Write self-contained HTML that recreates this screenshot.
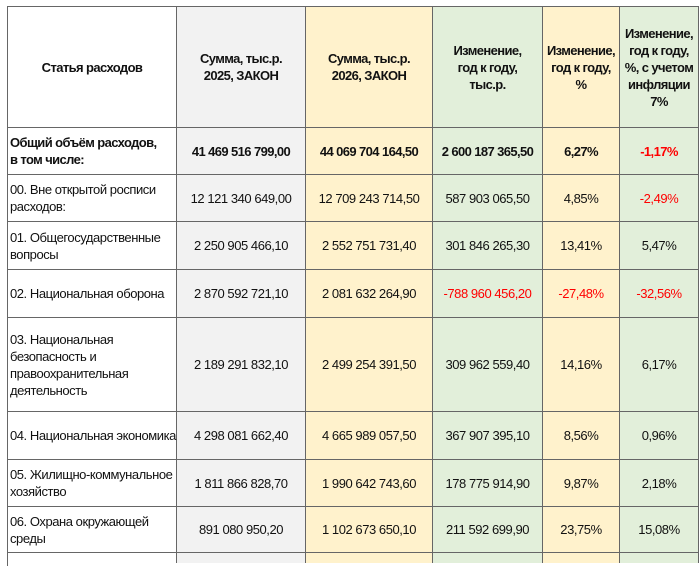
<!DOCTYPE html>
<html><head><meta charset="utf-8"><style>
body{margin:0;width:700px;height:556px;background:#fff;overflow:hidden;font-family:"Liberation Sans",Arial,sans-serif;font-size:13px;letter-spacing:-0.45px;color:#111;position:relative}
.c{position:absolute;box-sizing:border-box;display:flex;align-items:center;justify-content:center;text-align:center;line-height:17px;white-space:nowrap;border-right:1.5px solid #666;border-bottom:1.5px solid #666}
.l{justify-content:flex-start;text-align:left;padding-left:2px}
.b{font-weight:bold;letter-spacing:-0.6px}
.r{color:#f00}
.w{background:#fff}.g{background:#f2f2f2}.y{background:#fff2cc}.gr{background:#e2efda}
</style></head><body>
<div style="position:absolute;left:7px;top:6px;width:692px;height:560px;border-left:1.5px solid #666;border-top:1.5px solid #666;box-sizing:border-box"></div>
<div id="t"></div>
<script>
var xs=[8,177,306,433,543,620,699];
var ys=[7,128,175,222,270,318,412,460,507,553];
var bg=["w","g","y","gr","y","gr"];
var rows=[
[["Статья расходов","Сумма, тыс.р.<br>2025, ЗАКОН","Сумма, тыс.р.<br>2026, ЗАКОН","Изменение,<br>год к году,<br>тыс.р.","Изменение,<br>год к году,<br>%","Изменение,<br>год к году,<br>%, с учетом<br>инфляции<br>7%"],"b",[]],
[["Общий объём расходов,<br>в том числе:","41 469 516 799,00","44 069 704 164,50","2 600 187 365,50","6,27%","-1,17%"],"b",[5]],
[["00. Вне открытой росписи<br>расходов:","12 121 340 649,00","12 709 243 714,50","587 903 065,50","4,85%","-2,49%"],"",[5]],
[["01. Общегосударственные<br>вопросы","2 250 905 466,10","2 552 751 731,40","301 846 265,30","13,41%","5,47%"],"",[]],
[["02. Национальная оборона","2 870 592 721,10","2 081 632 264,90","-788 960 456,20","-27,48%","-32,56%"],"",[3,4,5]],
[["03. Национальная<br>безопасность и<br>правоохранительная<br>деятельность","2 189 291 832,10","2 499 254 391,50","309 962 559,40","14,16%","6,17%"],"",[]],
[["04. Национальная экономика","4 298 081 662,40","4 665 989 057,50","367 907 395,10","8,56%","0,96%"],"",[]],
[["05. Жилищно-коммунальное<br>хозяйство","1 811 866 828,70","1 990 642 743,60","178 775 914,90","9,87%","2,18%"],"",[]],
[["06. Охрана окружающей<br>среды","891 080 950,20","1 102 673 650,10","211 592 699,90","23,75%","15,08%"],"",[]]
];
var h="";
rows.forEach(function(r,i){
 for(var j=0;j<6;j++){
  var cls="c "+bg[j]+" "+r[1]+(j==0&&i>0?" l":"")+(r[2].indexOf(j)>=0?" r":"");
  h+='<div class="'+cls+'" style="left:'+xs[j]+'px;top:'+ys[i]+'px;width:'+(xs[j+1]-xs[j])+'px;height:'+(ys[i+1]-ys[i])+'px">'+r[0][j]+'</div>';
 }
});
for(var j=0;j<6;j++)h+='<div class="c '+bg[j]+'" style="left:'+xs[j]+'px;top:553px;width:'+(xs[j+1]-xs[j])+'px;height:10px;border-bottom:none"></div>';
document.getElementById("t").innerHTML=h;
</script>
</body></html>
